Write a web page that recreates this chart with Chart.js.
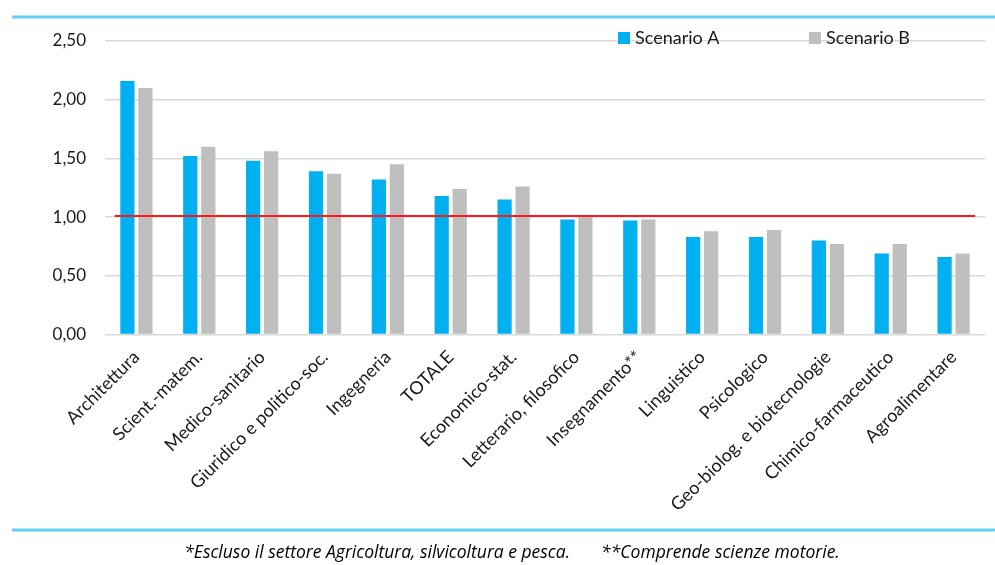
<!DOCTYPE html>
<html>
<head>
<meta charset="utf-8">
<script src="https://cdn.jsdelivr.net/npm/chart.js@4/dist/chart.umd.min.js"></script>
<style>
  html, body { margin: 0; padding: 0; background: #ffffff; }
  #wrap { position: relative; width: 995px; height: 565px; }
</style>
</head>
<body>
<div id="wrap"><canvas id="chart" width="995" height="565"></canvas></div>
<script>
// Categories (fields of study)
const categories = [
  'Architettura', 'Scient.-matem.', 'Medico-sanitario', 'Giuridico e politico-soc.',
  'Ingegneria', 'TOTALE', 'Economico-stat.', 'Letterario, filosofico',
  'Insegnamento**', 'Linguistico', 'Psicologico', 'Geo-biolog. e biotecnologie',
  'Chimico-farmaceutico', 'Agroalimentare'
];

// Series values
const scenarioA = [2.16, 1.52, 1.48, 1.39, 1.32, 1.18, 1.15, 0.98, 0.97, 0.83, 0.83, 0.80, 0.69, 0.66];
const scenarioB = [2.10, 1.60, 1.56, 1.37, 1.45, 1.24, 1.26, 1.01, 0.98, 0.88, 0.89, 0.77, 0.77, 0.69];

// Y axis ticks
const yTicks = [0, 0.5, 1.0, 1.5, 2.0, 2.5];

// Horizontal reference level
const referenceLevel = 1.01;

const seriesNames = ['Scenario A', 'Scenario B'];
const footnoteParts = ['*Escluso il settore Agricoltura, silvicoltura e pesca.', '**Comprende scienze motorie.'];

const FONT = 'Lato, "Open Sans", sans-serif';
const NOTE_FONT = '"Open Sans", Lato, sans-serif';
const TEXT = '#1a1a1a';
const CYAN = '#5fd0f0';

const itFmt = v => v.toFixed(2).replace('.', ',');

// Reference line, legend, frame rules and footnote
const decorations = {
  id: 'decorations',
  afterDatasetsDraw(chart) {
    const { ctx, scales: { x, y } } = chart;
    const step = x.getPixelForValue(1) - x.getPixelForValue(0);
    const yy = y.getPixelForValue(referenceLevel);
    ctx.save();
    ctx.strokeStyle = '#ff1a1a';
    ctx.lineWidth = 2;
    ctx.beginPath();
    ctx.moveTo(x.getPixelForValue(0) - 0.345 * step, yy);
    ctx.lineTo(x.getPixelForValue(categories.length - 1) + 0.345 * step, yy);
    ctx.stroke();
    ctx.restore();
  },
  afterDraw(chart) {
    const { ctx, chartArea } = chart;
    ctx.save();
    // legend
    ctx.font = '18px ' + FONT;
    ctx.textBaseline = 'middle';
    ctx.textAlign = 'left';
    chart.data.datasets.forEach((ds, i) => {
      const bx = chartArea.left + 513 + i * 191;
      const by = 38;
      ctx.fillStyle = ds.backgroundColor;
      ctx.fillRect(bx, by - 6, 12, 12);
      ctx.fillStyle = TEXT;
      ctx.fillText(ds.label, bx + 17, by);
    });
    // frame rules
    ctx.strokeStyle = CYAN;
    ctx.lineWidth = 3;
    ctx.beginPath();
    ctx.moveTo(12, 17); ctx.lineTo(995, 17);
    ctx.moveTo(12, 530); ctx.lineTo(995, 530);
    ctx.stroke();
    // footnote
    ctx.font = 'italic 17.5px ' + NOTE_FONT;
    ctx.fillStyle = '#000000';
    ctx.textAlign = 'left';
    const gap = 31;
    const w0 = ctx.measureText(footnoteParts[0]).width;
    const w1 = ctx.measureText(footnoteParts[1]).width;
    const start = 512 - (w0 + gap + w1) / 2;
    ctx.fillText(footnoteParts[0], start, 553);
    ctx.fillText(footnoteParts[1], start + w0 + gap, 553);
    ctx.restore();
  }
};

new Chart(document.getElementById('chart'), {
  type: 'bar',
  data: {
    labels: categories,
    datasets: [
      { label: seriesNames[0], data: scenarioA, backgroundColor: '#00b0f0',
        categoryPercentage: 0.573, barPercentage: 0.79 },
      { label: seriesNames[1], data: scenarioB, backgroundColor: '#bfbfbf',
        categoryPercentage: 0.573, barPercentage: 0.79 }
    ]
  },
  options: {
    responsive: false,
    animation: false,
    layout: { padding: { left: 0, right: 10, top: 41, bottom: 0 } },
    plugins: { legend: { display: false }, tooltip: { enabled: false } },
    scales: {
      x: {
        grid: { display: false },
        border: { display: false },
        ticks: {
          autoSkip: false, minRotation: 45, maxRotation: 45,
          color: TEXT, font: { family: FONT, size: 18 }, padding: 4
        },
        afterFit(scale) { scale.height = 230.5; }
      },
      y: {
        min: 0, max: 2.5,
        afterBuildTicks(scale) { scale.ticks = yTicks.map(v => ({ value: v })); },
        grid: { color: '#d9d9d9', lineWidth: 1.5, drawTicks: false },
        border: { display: false },
        ticks: {
          color: TEXT, font: { family: FONT, size: 17 }, padding: 19,
          callback: v => itFmt(v)
        },
        afterFit(scale) { scale.width = 105; }
      }
    }
  },
  plugins: [decorations]
});
</script>
</body>
</html>
